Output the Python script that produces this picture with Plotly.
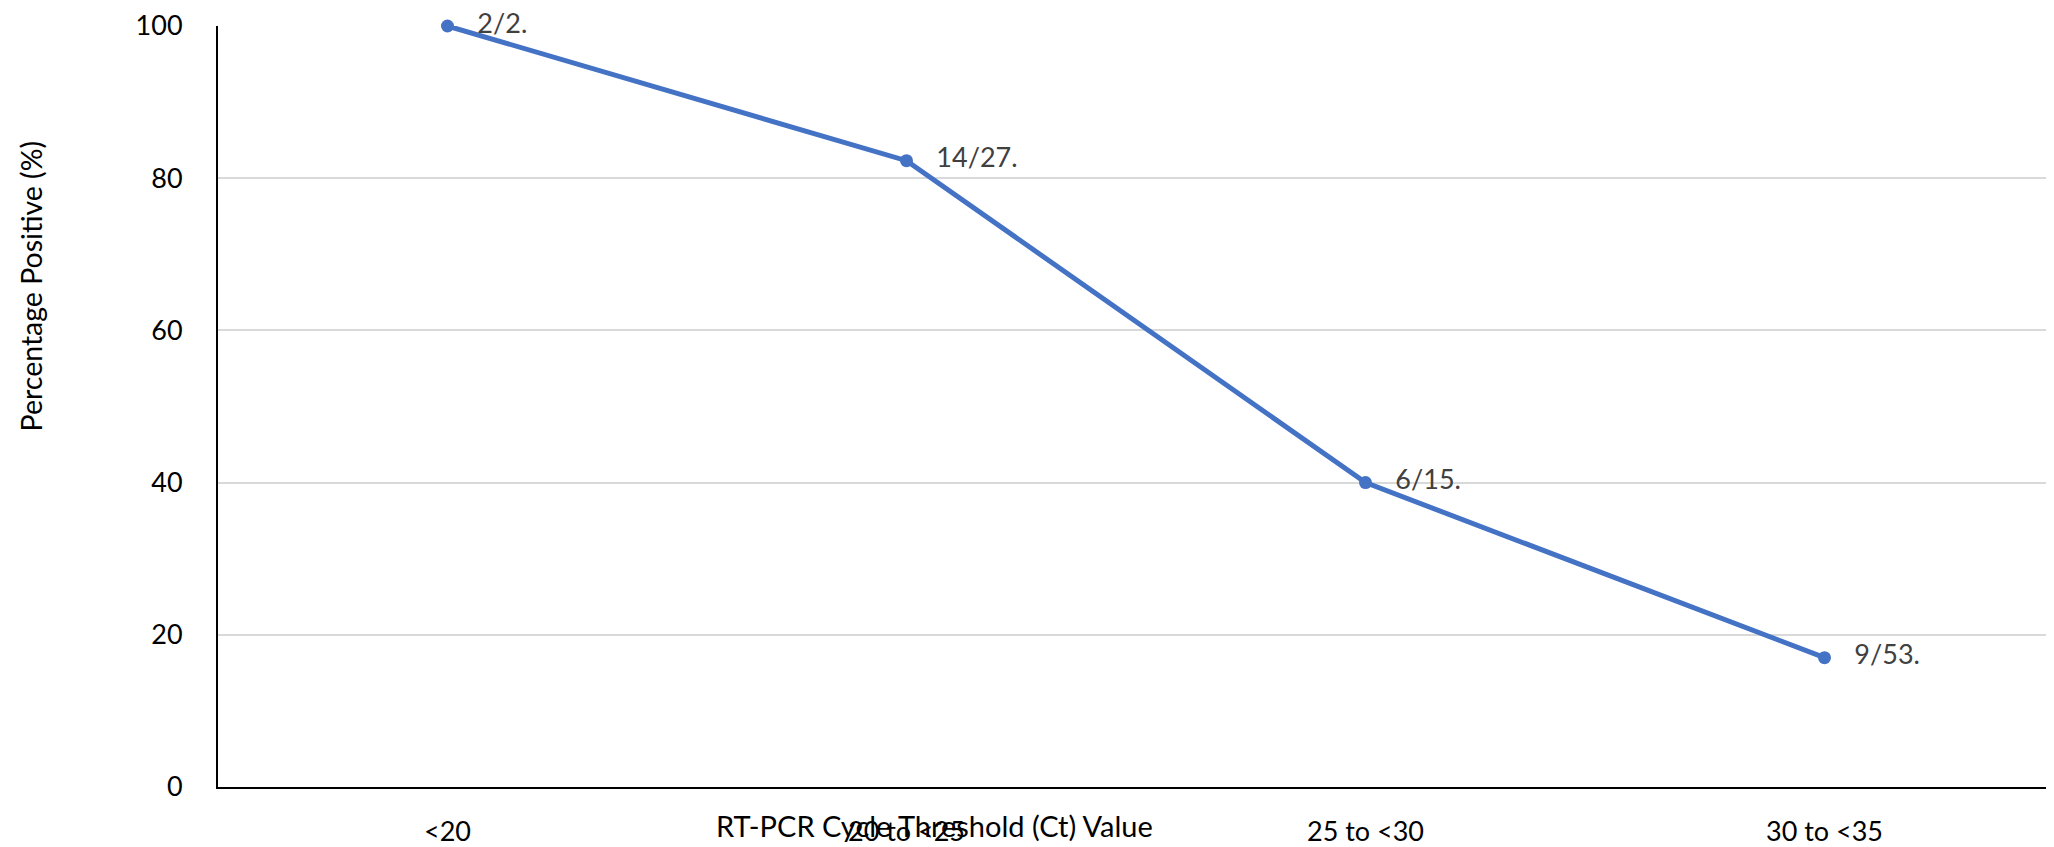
import plotly.graph_objects as go

categories = ["<20", "20 to <25", "25 to <30", "30 to <35"]
percent_positive = [100, 82.3, 40, 17]
point_labels = ["2/2.", "14/27.", "6/15.", "9/53."]
y_ticks = [0, 20, 40, 60, 80, 100]

FONT = "Lato"

fig = go.Figure()
fig.add_trace(go.Scatter(
    x=categories, y=percent_positive, mode="lines+markers+text",
    text=point_labels, texttemplate="\u00a0\u00a0\u00a0%{text}",
    textposition="middle right",
    textfont=dict(family=FONT, size=27, color="#404040"),
    line=dict(color="#4472C4", width=5),
    marker=dict(color="#4472C4", size=13),
    cliponaxis=False, showlegend=False, hoverinfo="skip",
))

fig.update_layout(
    width=2046, height=839,
    margin=dict(l=210, r=0, t=13, b=58),
    paper_bgcolor="white", plot_bgcolor="white",
    font=dict(family=FONT, size=27, color="#000000"),
    xaxis=dict(
        type="category", range=[-0.5, 3.5],
        showgrid=False, showline=True, linecolor="#000000", linewidth=2,
        ticks="", ticklabelstandoff=20, ticklabeloverflow="allow",
        tickfont=dict(family=FONT, size=27, color="#000000"),
        zeroline=False,
    ),
    yaxis=dict(
        range=[0, 100], tickvals=y_ticks,
        showgrid=True, gridcolor="#D9D9D9", gridwidth=1.5,
        showline=True, linecolor="#000000", linewidth=2,
        ticks="", ticklabelstandoff=28, ticklabeloverflow="allow",
        tickfont=dict(family=FONT, size=27, color="#000000"),
        zeroline=False,
    ),
    annotations=[
        dict(text="RT-PCR Cycle Threshold (Ct) Value", xref="paper", yref="paper",
             x=0.39, y=-0.0508, xanchor="center", yanchor="middle", showarrow=False,
             font=dict(family=FONT, size=29, color="#000000")),
        dict(text="Percentage Positive (%)", xref="paper", yref="paper",
             x=-0.1019, y=0.659, xanchor="center", yanchor="middle", showarrow=False,
             textangle=-90, font=dict(family=FONT, size=28.5, color="#000000")),
    ],
)

fig.write_html("out.html")
